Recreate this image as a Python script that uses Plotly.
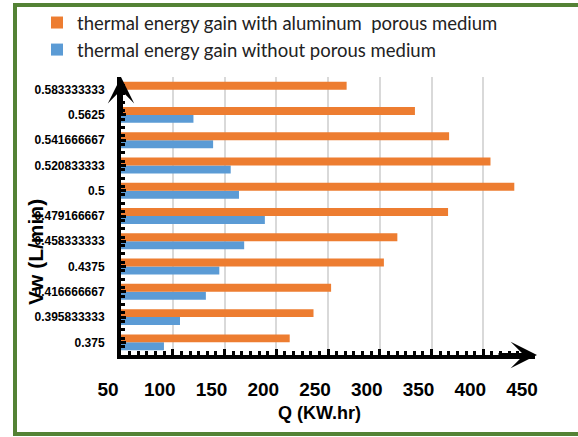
import plotly.graph_objects as go

vw = [0.375, 0.395833333, 0.416666667, 0.4375, 0.458333333, 0.479166667,
      0.5, 0.520833333, 0.541666667, 0.5625, 0.583333333]
vw_labels = ["0.375", "0.395833333", "0.416666667", "0.4375", "0.458333333",
             "0.479166667", "0.5", "0.520833333", "0.541666667", "0.5625",
             "0.583333333"]
q_aluminum = [213, 236, 253, 304, 317, 366, 430, 407, 367, 334, 268]
q_without = [91.5, 107, 132, 145, 169, 189, 164, 156, 139, 120, None]
x_ticks = [50, 100, 150, 200, 250, 300, 350, 400, 450]

ORANGE = "#ED7D31"
BLUE = "#5B9BD5"
W, H = 578, 437
L, R, T, B = 121, 43, 77, 82
pw, ph = W - L - R, H - T - B


def px_x(px):
    return (px - L) / pw


def px_y(py):
    return (T + ph - py) / ph


fig = go.Figure()
fig.add_trace(go.Bar(y=vw, x=q_without, orientation="h", marker_color=BLUE,
                     name="thermal energy gain without porous medium"))
fig.add_trace(go.Bar(y=vw, x=q_aluminum, orientation="h", marker_color=ORANGE,
                     name="thermal energy gain with aluminum  porous medium"))

step = vw[1] - vw[0]
fig.update_layout(
    template="none",
    width=W, height=H,
    margin=dict(l=L, r=R, t=T, b=B, autoexpand=False),
    paper_bgcolor="white", plot_bgcolor="white",
    barmode="group", bargap=0.37, bargroupgap=0,
    font=dict(family="Liberation Sans, Arial", color="black"),
    legend=dict(xref="container", yref="container", x=37 / W, y=1 - 4 / H,
                xanchor="left", yanchor="top", traceorder="reversed",
                font=dict(family="Lato", size=18.5, color="#222"),
                bgcolor="rgba(0,0,0,0)"),
    xaxis=dict(range=[50, 450], tickvals=x_ticks, showgrid=True,
               automargin=False,
               gridcolor="#d9d9d9", gridwidth=2, zeroline=False,
               showline=True, linecolor="black", linewidth=4,
               ticks="inside", ticklen=6, tickwidth=3, tickcolor="black",
               minor=dict(dtick=50 / 6, ticks="inside", ticklen=4,
                          tickwidth=3, tickcolor="black", showgrid=False),
               ticklabelshift=-13, ticklabelstandoff=14,
               tickfont=dict(size=19, family="Liberation Sans, Arial",
                             weight="bold")),
    yaxis=dict(range=[vw[0] - step / 2, vw[-1] + step / 2],
               automargin=False,
               tickvals=vw, ticktext=vw_labels, showgrid=False,
               zeroline=False, showline=True, linecolor="black", linewidth=4,
               ticks="inside", ticklen=5, tickwidth=3, tickcolor="black",
               minor=dict(dtick=step / 3, tick0=vw[0] - step / 2,
                          ticks="inside", ticklen=4, tickwidth=3,
                          tickcolor="black"),
               ticklabelstandoff=10,
               tickfont=dict(size=12, family="Liberation Sans, Arial",
                             weight="bold")),
)

# axis arrows
fig.add_annotation(xref="paper", yref="paper", x=0, y=1.0, ax=0, ay=40,
                   showarrow=True, arrowhead=3, arrowsize=1.1, arrowwidth=4,
                   arrowcolor="black", text="")
fig.add_annotation(xref="paper", yref="paper", x=px_x(537), y=0, ax=-40, ay=0,
                   showarrow=True, arrowhead=3, arrowsize=1.1, arrowwidth=4,
                   arrowcolor="black", text="")

# axis titles
fig.add_annotation(xref="paper", yref="paper", x=px_x(319), y=px_y(413),
                   text="Q (KW.hr)", showarrow=False,
                   font=dict(size=18, family="Liberation Sans, Arial",
                             weight="bold"),
                   xanchor="center", yanchor="middle")
fig.add_annotation(xref="paper", yref="paper", x=px_x(35), y=px_y(252),
                   text="Vw (L/min)", showarrow=False, textangle=-90,
                   font=dict(size=21, family="Liberation Sans, Arial",
                             weight="bold"),
                   xanchor="center", yanchor="middle")

# green frame
fig.add_shape(type="rect", xref="paper", yref="paper",
              x0=px_x(15), x1=px_x(600), y0=px_y(434), y1=px_y(5),
              line=dict(color="#548235", width=4), layer="below")

fig.write_html("out.html",
               config={"displayModeBar": False},
               post_script="document.body.style.margin='0';"
                           "document.body.style.overflow='hidden';")
